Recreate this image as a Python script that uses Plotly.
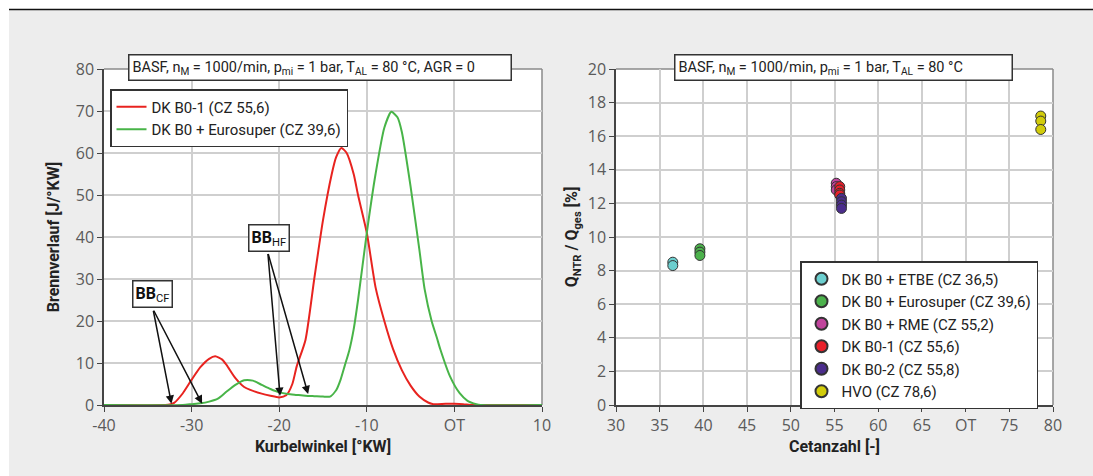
import plotly.graph_objects as go

# ---------------- data ----------------
# left: Brennverlauf over Kurbelwinkel
red_x = [-40, -33, -32.5, -32, -31, -30, -29, -28, -27.3, -26.5, -26, -25, -24, -23.3, -22, -21, -20,
         -19.2, -18.5, -18, -17, -16, -15, -14, -13.5, -12.9, -12.3, -11.5, -11, -10, -9, -8, -7,
         -6, -5, -4, -3, -2.4, -1, 0, 1, 1.8, 2.5, 10]
red_y = [0, 0, 0.1, 0.5, 2.8, 6.0, 9.0, 11.0, 11.6, 10.8, 9.5, 6.4, 4.3, 3.6, 2.7, 2.2, 1.8,
         2.3, 5.0, 9.2, 15.5, 30, 44, 55, 59, 61.2, 60, 55, 50, 41, 28, 20, 13.3,
         8.3, 4.6, 2.0, 0.6, 0.2, 0.3, 0.3, 0.2, 0, 0, 0]
green_x = [-40, -31, -30, -29, -28, -27, -26, -25, -24, -23, -22, -21, -20, -19, -18, -17, -16,
           -15, -14.2, -13.5, -13, -12.5, -12, -11.5, -11, -10, -9, -8, -7.2, -6.5, -6, -5, -4,
           -3.4, -2.6, -2, -1.6, -0.5, 0.6, 1.5, 2.5, 3, 10]
green_y = [0, 0, 0.2, 0.4, 0.8, 1.5, 3.2, 4.8, 5.9, 5.8, 4.8, 3.8, 3.0, 2.6, 2.4, 2.2, 2.1,
           2.0, 2.0, 3.5, 6.0, 9.5, 13, 18, 25, 41, 55, 66, 69.8, 68.5, 65, 52, 37,
           27.6, 20, 16, 13.2, 6.8, 2.8, 1.0, 0.2, 0, 0]
left_xticks = [-40, -30, -20, -10, 0, 10]
left_xticklabels = ["-40", "-30", "-20", "-10", "OT", "10"]

# right: Q_NTR/Q_ges over Cetanzahl
fuel_names = ["DK B0 + ETBE (CZ 36,5)", "DK B0 + Eurosuper (CZ 39,6)", "DK B0 + RME (CZ 55,2)",
              "DK B0-1 (CZ 55,6)", "DK B0-2 (CZ 55,8)", "HVO (CZ 78,6)"]
fuel_cz = [36.5, 39.6, 55.2, 55.6, 55.8, 78.6]
fuel_q = [[8.5, 8.3],
          [9.3, 9.1, 8.9],
          [13.2, 13.0, 12.8],
          [13.0, 12.8, 12.6, 12.5],
          [12.3, 12.1, 11.9, 11.7],
          [17.2, 16.9, 16.4]]
fuel_colors = ["#6ccfcf", "#4cb24c", "#c0449c", "#e8202a", "#4b2d8c", "#d2cc0a"]
right_xticks = [30, 35, 40, 45, 50, 55, 60, 65, 70, 75, 80]
right_xticklabels = ["30", "35", "40", "45", "50", "55", "60", "65", "OT", "75", "80"]

# ---------------- figure ----------------
W, H = 1093, 476
FONT = "Roboto, Liberation Sans, sans-serif"
TICKFONT = dict(family="Open Sans, Lato, sans-serif", size=16, color="#5a5a5a")


def px(v):
    return v / W


def py(v):
    return 1 - v / H


fig = go.Figure()
fig.add_trace(go.Scatter(x=red_x, y=red_y, mode="lines", name="DK B0-1 (CZ 55,6)",
                         line=dict(color="#e8231f", width=2, shape="spline", smoothing=0.6),
                         xaxis="x", yaxis="y", legend="legend"))
fig.add_trace(go.Scatter(x=green_x, y=green_y, mode="lines", name="DK B0 + Eurosuper (CZ 39,6)",
                         line=dict(color="#48b448", width=2, shape="spline", smoothing=0.6),
                         xaxis="x", yaxis="y", legend="legend"))
for name, cz, qs, col in zip(fuel_names, fuel_cz, fuel_q, fuel_colors):
    fig.add_trace(go.Scatter(x=[cz] * len(qs), y=qs, mode="markers", name=name,
                             marker=dict(color=col, size=10, line=dict(color="#333333", width=1)),
                             xaxis="x2", yaxis="y2", legend="legend2"))

ydom = [py(405), py(69)]

axis_common = dict(showgrid=True, gridcolor="#cfcfcf", gridwidth=1.5, zeroline=False,
                   showline=True, linecolor="#444444", linewidth=1.5, ticks="outside",
                   ticklen=5, tickcolor="#444444", tickfont=TICKFONT, automargin=False)

fig.update_layout(
    width=W, height=H,
    margin=dict(l=0, r=0, t=0, b=0, pad=0),
    paper_bgcolor="#ededed", plot_bgcolor="white",
    font=dict(family=FONT, size=15, color="#222222"),
    xaxis=dict(domain=[px(104), px(542)], range=[-40, 10], tickvals=left_xticks, ticktext=left_xticklabels,
               title=dict(text="<b>Kurbelwinkel [°KW]</b>", font=dict(size=16), standoff=6),
               anchor="y", **axis_common),
    yaxis=dict(domain=ydom, range=[0, 80], dtick=10,
               title=dict(text="<b>Brennverlauf [J/°KW]</b>", font=dict(size=16), standoff=12),
               anchor="x", **axis_common),
    xaxis2=dict(domain=[px(616), px(1053)], range=[30, 80], tickvals=right_xticks, ticktext=right_xticklabels,
                title=dict(text="<b>Cetanzahl [-]</b>", font=dict(size=16), standoff=6),
                anchor="y2", **axis_common),
    yaxis2=dict(domain=ydom, range=[0, 20], dtick=2,
                title=dict(text="<b>Q<sub>NTR</sub> / Q<sub>ges</sub> [%]</b>", font=dict(size=16), standoff=6),
                anchor="x2", **axis_common),
    legend=dict(x=px(110), y=py(89), xanchor="left", yanchor="top", bgcolor="white",
                bordercolor="#333333", borderwidth=1.5, font=dict(size=15, color="#222222"),
                tracegroupgap=0, itemwidth=30),
    legend2=dict(x=px(800), y=py(261), xanchor="left", yanchor="top", bgcolor="white",
                 bordercolor="#333333", borderwidth=1.5, font=dict(size=15, color="#222222"),
                 tracegroupgap=0, itemsizing="constant"),
    showlegend=True,
)

# frame (top/right) of plot areas in gray
for xr, yr in (("x", "y"), ("x2", "y2")):
    fig.add_shape(type="line", xref=f"{xr} domain", yref=f"{yr} domain", x0=0, x1=1, y0=1, y1=1,
                  line=dict(color="#8a8a8a", width=1.5), layer="below")
    fig.add_shape(type="line", xref=f"{xr} domain", yref=f"{yr} domain", x0=1, x1=1, y0=0, y1=1,
                  line=dict(color="#8a8a8a", width=1.5), layer="below")

# white edges and top rule
fig.add_shape(type="rect", xref="paper", yref="paper", x0=0, x1=1, y0=py(9), y1=1,
              fillcolor="white", line=dict(width=0), layer="above")
fig.add_shape(type="rect", xref="paper", yref="paper", x0=0, x1=px(9), y0=0, y1=1,
              fillcolor="white", line=dict(width=0), layer="above")
fig.add_shape(type="line", xref="paper", yref="paper", x0=px(9), x1=1, y0=py(9.5), y1=py(9.5),
              line=dict(color="#111111", width=1.5), layer="above")

# condition boxes
fig.add_annotation(xref="paper", yref="paper", x=px(128), y=py(68), xanchor="left", yanchor="middle",
                   text="BASF, n<sub>M</sub> = 1000/min, p<sub>mi</sub> = 1 bar, T<sub>AL</sub> = 80 °C, AGR = 0",
                   showarrow=False, bgcolor="white", bordercolor="#333333", borderwidth=1.5,
                   width=375, align="left", font=dict(size=14.5, color="#222222"), borderpad=3)
fig.add_annotation(xref="paper", yref="paper", x=px(674), y=py(68), xanchor="left", yanchor="middle",
                   text="BASF, n<sub>M</sub> = 1000/min, p<sub>mi</sub> = 1 bar, T<sub>AL</sub> = 80 °C",
                   showarrow=False, bgcolor="white", bordercolor="#333333", borderwidth=1.5,
                   width=330, align="left", font=dict(size=14.5, color="#222222"), borderpad=3)

# BB labels with arrows
fig.add_annotation(x=-34.45, y=23, xref="x", yref="y", yanchor="bottom", text="<b>BB</b><sub>CF</sub>",
                   showarrow=False, bgcolor="white", bordercolor="#333333", borderwidth=1.5,
                   font=dict(size=16, color="#111111"), borderpad=2)
fig.add_annotation(x=-21.2, y=36.4, xref="x", yref="y", yanchor="bottom", text="<b>BB</b><sub>HF</sub>",
                   showarrow=False, bgcolor="white", bordercolor="#333333", borderwidth=1.5,
                   font=dict(size=16, color="#111111"), borderpad=2)
for hx, hy, tx, ty in [(-32.3, 0.3, -34.4, 22.8), (-28.8, 0.3, -34.4, 22.8),
                       (-19.9, 2.2, -21.3, 36.3), (-16.7, 2.6, -21.3, 36.3)]:
    fig.add_annotation(x=hx, y=hy, ax=tx, ay=ty, xref="x", yref="y", axref="x", ayref="y",
                       text="", showarrow=True, arrowhead=2, arrowsize=1.1, arrowwidth=1.5,
                       arrowcolor="#111111")

fig.write_html("out.html")
